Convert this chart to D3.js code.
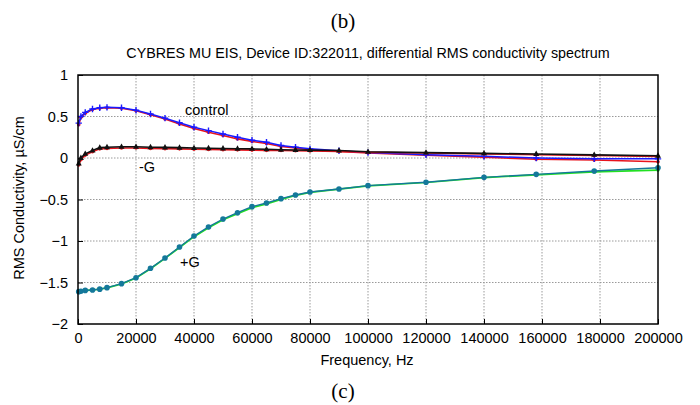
<!DOCTYPE html>
<html>
<head>
<meta charset="utf-8">
<script src="https://cdn.jsdelivr.net/npm/d3@7"></script>
<style>
  body { margin: 0; background: #fff; }
  text { font-family: "Liberation Sans", Arial, sans-serif; }
</style>
</head>
<body>
<div id="chart"></div>
<script>
// frequencies (Hz) of the measured points
var freq = [250, 1000, 2500, 5000, 7500, 10000, 15000, 20000, 25000, 30000, 35000, 40000, 45000,
  50000, 55000, 60000, 65000, 70000, 75000, 80000, 90000, 100000, 120000, 140000, 158000, 178000, 200000];

// control: two runs (red underneath, blue on top)
var controlRed = [0.40, 0.49, 0.54, 0.585, 0.60, 0.605, 0.60, 0.57, 0.52, 0.47, 0.41, 0.355, 0.31,
  0.27, 0.23, 0.20, 0.175, 0.14, 0.12, 0.10, 0.08, 0.06, 0.035, 0.01, -0.015, -0.025, -0.045];
var controlBlue = [0.42, 0.50, 0.55, 0.59, 0.605, 0.61, 0.605, 0.575, 0.53, 0.48, 0.425, 0.37, 0.33,
  0.29, 0.25, 0.215, 0.19, 0.15, 0.13, 0.11, 0.088, 0.065, 0.04, 0.02, 0.0, -0.01, -0.01];

// -G
var minusGRed = [-0.085, -0.02, 0.035, 0.075, 0.11, 0.115, 0.12, 0.12, 0.115, 0.112, 0.11, 0.105, 0.102,
  0.10, 0.098, 0.095, 0.092, 0.09, 0.088, 0.085, 0.08, 0.07, 0.06, 0.05, 0.04, 0.03, 0.02];
var minusGBlack = [-0.065, 0.0, 0.05, 0.09, 0.125, 0.13, 0.135, 0.135, 0.13, 0.128, 0.125, 0.12, 0.118,
  0.115, 0.112, 0.11, 0.105, 0.10, 0.097, 0.095, 0.09, 0.075, 0.065, 0.056, 0.048, 0.038, 0.028];

// +G
var plusGGreen = [-1.61, -1.605, -1.597, -1.59, -1.58, -1.565, -1.518, -1.447, -1.335, -1.21, -1.078, -0.948, -0.84,
  -0.745, -0.67, -0.598, -0.552, -0.498, -0.452, -0.415, -0.376, -0.336, -0.295, -0.236, -0.203, -0.168, -0.145];
var plusGTeal = [-1.61, -1.605, -1.595, -1.59, -1.58, -1.562, -1.514, -1.442, -1.329, -1.205, -1.072, -0.94, -0.831,
  -0.735, -0.659, -0.586, -0.542, -0.49, -0.446, -0.41, -0.373, -0.333, -0.293, -0.233, -0.197, -0.157, -0.117];

var xTicks = [0, 20000, 40000, 60000, 80000, 100000, 120000, 140000, 160000, 180000, 200000];
var yTicks = [-2, -1.5, -1, -0.5, 0, 0.5, 1];

var margin = {top: 75, right: 42, bottom: 81, left: 78},
  width = 700 - margin.left - margin.right,
  height = 405 - margin.top - margin.bottom;

var svg = d3.select("#chart").append("svg")
  .attr("width", 700)
  .attr("height", 405);

var g = svg.append("g")
  .attr("transform", "translate(" + margin.left + "," + margin.top + ")");

var x = d3.scaleLinear().domain([0, 200000]).range([0, width]);
var y = d3.scaleLinear().domain([-2, 1]).range([height, 0]);

// grid (dotted)
g.append("g").selectAll("line")
  .data(xTicks.slice(1, -1))
  .join("line")
  .attr("x1", d => x(d)).attr("x2", d => x(d))
  .attr("y1", 0).attr("y2", height)
  .attr("stroke", "#9a9a9a").attr("stroke-width", 1).attr("stroke-dasharray", "1.5,1.5");
g.append("g").selectAll("line")
  .data(yTicks.slice(1, -1))
  .join("line")
  .attr("x1", 0).attr("x2", width)
  .attr("y1", d => y(d)).attr("y2", d => y(d))
  .attr("stroke", "#9a9a9a").attr("stroke-width", 1).attr("stroke-dasharray", "1.5,1.5");

// axes, ticks inward
var xAxis = g.append("g")
  .attr("transform", "translate(0," + height + ")")
  .call(d3.axisBottom(x).tickValues(xTicks).tickSize(-5).tickPadding(9).tickFormat(d3.format("d")));
var yAxis = g.append("g")
  .call(d3.axisLeft(y).tickValues(yTicks).tickSize(-5).tickPadding(10).tickFormat(d => d3.format("")(d)));
[xAxis, yAxis].forEach(function(a) {
  a.select(".domain").remove();
  a.selectAll("line").attr("stroke", "#000");
  a.selectAll("text").attr("font-size", 14.5).attr("fill", "#000")
    .style("font-family", "'Liberation Sans', Arial, sans-serif");
});

var line = d3.line()
  .x((d, i) => x(freq[i]))
  .y(d => y(d));

function drawSeries(vals, color, w, marker) {
  g.append("path")
    .datum(vals)
    .attr("fill", "none")
    .attr("stroke", color)
    .attr("stroke-width", w)
    .attr("d", line);
  var pts = g.append("g").selectAll("g")
    .data(vals)
    .join("g")
    .attr("transform", (d, i) => "translate(" + x(freq[i]) + "," + y(d) + ")");
  if (marker === "circle") {
    pts.append("circle").attr("r", 2.8).attr("fill", color);
  } else if (marker === "dot") {
    pts.append("circle").attr("r", 1.8).attr("fill", color);
  } else if (marker === "plus") {
    pts.append("path").attr("d", "M-3.2,0H3.2M0,-3.2V3.2").attr("stroke", color).attr("stroke-width", 1.4);
  } else if (marker === "tri") {
    pts.append("path").attr("d", "M0,-3.4L3,2H-3Z").attr("fill", color);
  }
}

drawSeries(controlRed, "#e8141c", 1.6, "dot");
drawSeries(controlBlue, "#1a1aff", 1.5, "plus");
drawSeries(minusGRed, "#e8141c", 1.6, "dot");
drawSeries(minusGBlack, "#111", 1.6, "tri");
drawSeries(plusGGreen, "#22e022", 1.7, "dot");
drawSeries(plusGTeal, "#14789a", 1.4, "circle");

// frame
g.append("rect")
  .attr("width", width).attr("height", height)
  .attr("fill", "none").attr("stroke", "#000").attr("stroke-width", 1.5);

// curve labels
var labels = [
  {t: "control", x: 185, y: 115},
  {t: "-G", x: 139, y: 172},
  {t: "+G", x: 180, y: 267}
];
svg.selectAll(".lab")
  .data(labels)
  .join("text")
  .attr("class", "lab")
  .attr("x", d => d.x).attr("y", d => d.y)
  .attr("font-size", 14.5)
  .text(d => d.t);

// title, axis labels
svg.append("text")
  .attr("x", 368).attr("y", 58)
  .attr("text-anchor", "middle")
  .attr("font-size", 14.3)
  .text("CYBRES MU EIS, Device ID:322011, differential RMS conductivity spectrum");
svg.append("text")
  .attr("x", 367).attr("y", 365)
  .attr("text-anchor", "middle")
  .attr("font-size", 14.5)
  .text("Frequency, Hz");
svg.append("text")
  .attr("transform", "translate(24,198) rotate(-90)")
  .attr("text-anchor", "middle")
  .attr("font-size", 14.5)
  .text("RMS Conductivity, µS/cm");

// sub-figure captions
svg.append("text")
  .attr("x", 343).attr("y", 28)
  .attr("text-anchor", "middle")
  .style("font-family", "'Liberation Serif', 'DejaVu Serif', serif")
  .attr("font-size", 21)
  .text("(b)");
svg.append("text")
  .attr("x", 343).attr("y", 398)
  .attr("text-anchor", "middle")
  .style("font-family", "'Liberation Serif', 'DejaVu Serif', serif")
  .attr("font-size", 21)
  .text("(c)");
</script>
</body>
</html>
